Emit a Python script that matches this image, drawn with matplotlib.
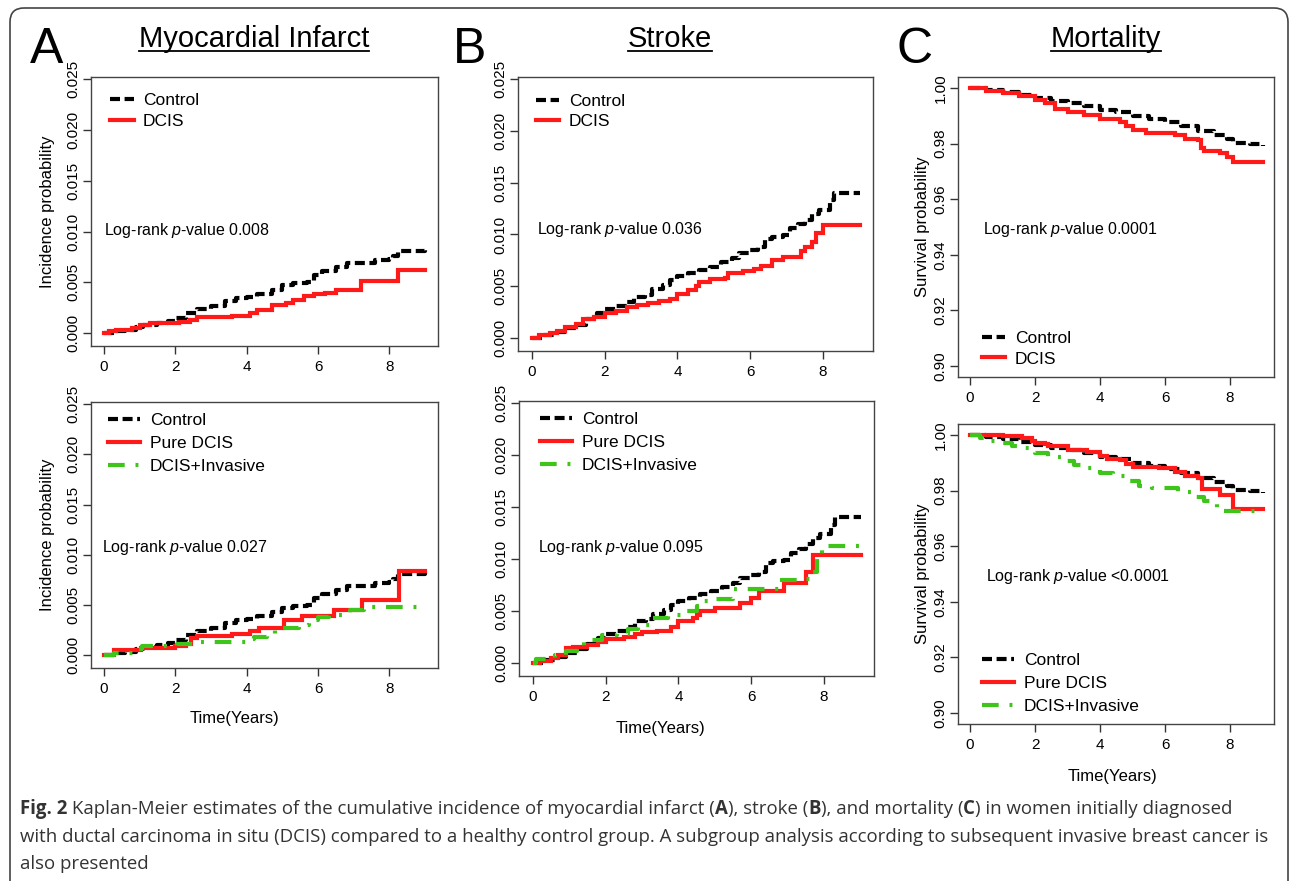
import matplotlib
matplotlib.use('Agg')
import matplotlib.pyplot as plt
from matplotlib.patches import FancyBboxPatch

plt.rcParams['font.family'] = ['Liberation Sans', 'DejaVu Sans']
plt.rcParams['mathtext.fontset'] = 'custom'
plt.rcParams['mathtext.rm'] = 'Liberation Sans'
plt.rcParams['mathtext.it'] = 'Liberation Sans:italic'

W, H = 1290, 881

# ---- data (time in years, probability) ----
mi_ctrl_t = [0, 0.3, 0.6, 0.9, 1.1, 1.5, 1.8, 2.0, 2.3, 2.6, 3.0, 3.4, 3.7, 4.0, 4.3, 4.7, 5.0, 5.3,
             5.7, 5.9, 6.1, 6.5, 6.8, 7.4, 7.6, 8.0, 8.1, 8.25, 9.0]
mi_ctrl_y = [0, 0.0002, 0.0003, 0.0006, 0.0008, 0.0010, 0.0012, 0.0015, 0.0020, 0.0024, 0.0027, 0.0032,
             0.0035, 0.0036, 0.0039, 0.0043, 0.0047, 0.0049, 0.0050, 0.0057, 0.0061, 0.0065, 0.0069,
             0.0069, 0.0072, 0.0073, 0.0076, 0.0081, 0.0082]
mi_dcis_t = [0, 0.15, 0.35, 0.8, 1.0, 1.3, 2.1, 2.4, 2.6, 3.6, 4.1, 4.3, 4.7, 5.1, 5.3, 5.6, 5.9, 6.2,
             6.5, 7.2, 8.25, 9.0]
mi_dcis_y = [0, 0.0002, 0.0003, 0.0005, 0.0008, 0.0010, 0.0011, 0.0013, 0.0016, 0.0017, 0.0020, 0.0023,
             0.0028, 0.0030, 0.0033, 0.0037, 0.0039, 0.0040, 0.0043, 0.0051, 0.0062, 0.0062]
mi_pure_t = [0, 0.28, 1.03, 2.0, 2.3, 2.43, 2.6, 3.6, 4.1, 4.35, 5.05, 5.56, 6.45, 7.24, 8.27, 9.0]
mi_pure_y = [0, 0.0005, 0.00075, 0.0009, 0.0011, 0.0017, 0.0019, 0.0021, 0.0024, 0.0027, 0.0035,
             0.0039, 0.0045, 0.0055, 0.0084, 0.0084]
mi_inv_t = [0, 0.28, 0.93, 1.07, 2.05, 2.6, 4.0, 4.2, 4.58, 4.8, 5.47, 5.75, 6.0, 6.3, 6.9, 7.3, 9.0]
mi_inv_y = [0, 0.0002, 0.0006, 0.0009, 0.0011, 0.0013, 0.0016, 0.0018, 0.0020, 0.0027, 0.0030,
            0.0035, 0.0038, 0.0040, 0.0045, 0.0048, 0.0048]

st_ctrl_t = [0, 0.3, 0.6, 0.9, 1.2, 1.5, 1.8, 2.0, 2.3, 2.6, 2.8, 3.1, 3.3, 3.6, 3.8, 4.0, 4.3, 4.6,
             4.9, 5.2, 5.5, 5.7, 6.0, 6.2, 6.4, 6.6, 6.9, 7.1, 7.3, 7.5, 7.7, 7.9, 8.1, 8.2, 8.3, 9.0]
st_ctrl_y = [0, 0.0003, 0.0006, 0.0010, 0.0013, 0.0018, 0.0024, 0.0028, 0.0031, 0.0035, 0.0040,
             0.0042, 0.0047, 0.0051, 0.0056, 0.0060, 0.0063, 0.0066, 0.0069, 0.0073, 0.0077, 0.0082,
             0.0085, 0.0088, 0.0096, 0.0098, 0.0099, 0.0106, 0.0110, 0.0114, 0.0120, 0.0124, 0.0124,
             0.0133, 0.0140, 0.0140]
st_dcis_t = [0, 0.2, 0.5, 0.7, 0.9, 1.2, 1.4, 1.7, 2.0, 2.3, 2.6, 2.9, 3.2, 3.5, 3.8, 4.0, 4.3, 4.5,
             4.6, 4.9, 5.3, 5.4, 5.8, 6.1, 6.3, 6.6, 6.9, 7.4, 7.5, 7.7, 7.8, 8.0, 9.0]
st_dcis_y = [0, 0.0003, 0.0005, 0.0007, 0.0011, 0.0014, 0.0018, 0.0020, 0.0024, 0.0026, 0.0030,
             0.0032, 0.0034, 0.0036, 0.0038, 0.0043, 0.0046, 0.0050, 0.0054, 0.0057, 0.0058, 0.0063,
             0.0065, 0.0067, 0.0070, 0.0075, 0.0078, 0.0084, 0.0088, 0.0093, 0.0101, 0.0109, 0.0109]
st_pure_t = [0, 0.2, 0.5, 0.7, 0.9, 1.1, 1.5, 1.8, 2.0, 2.5, 2.8, 3.0, 3.4, 3.8, 4.0, 4.4, 4.5, 4.6,
             5.0, 5.7, 6.0, 6.2, 6.9, 7.5, 7.7, 9.0]
st_pure_y = [0, 0.0002, 0.0005, 0.0008, 0.0014, 0.0015, 0.0017, 0.0020, 0.0023, 0.0025, 0.0028,
             0.0030, 0.0031, 0.0035, 0.0040, 0.0043, 0.0046, 0.0050, 0.0053, 0.0058, 0.0063, 0.0069,
             0.0077, 0.0088, 0.0104, 0.0104]
st_inv_t = [0, 0.1, 0.6, 0.9, 1.2, 1.4, 1.6, 1.9, 2.3, 2.6, 2.9, 3.3, 3.7, 4.1, 4.5, 4.7, 4.9, 5.5,
            6.3, 6.8, 7.4, 7.6, 7.8, 7.95, 9.0]
st_inv_y = [0, 0.0004, 0.0008, 0.0012, 0.0016, 0.0021, 0.0022, 0.0027, 0.0028, 0.0033, 0.0037,
            0.0043, 0.0046, 0.0050, 0.0055, 0.0060, 0.0062, 0.0071, 0.0071, 0.0080, 0.0081, 0.0088,
            0.0100, 0.0113, 0.0113]

mo_ctrl_t = [0, 0.5, 1.0, 1.5, 2.0, 2.5, 3.0, 3.5, 4.0, 4.5, 5.0, 5.5, 6.0, 6.5, 7.0, 7.5, 7.9, 8.1,
             8.6, 9.0]
mo_ctrl_y = [1.0, 0.9992, 0.9985, 0.9975, 0.9963, 0.9955, 0.9945, 0.9935, 0.9922, 0.9913, 0.9898,
             0.9887, 0.9877, 0.9865, 0.9847, 0.9832, 0.9818, 0.9802, 0.9798, 0.9790]
mo_dcis_t = [0, 0.5, 1.0, 1.5, 2.0, 2.3, 2.6, 3.0, 3.5, 4.0, 4.6, 4.8, 5.0, 5.4, 6.0, 6.3, 6.6, 7.0,
             7.1, 7.2, 7.7, 7.9, 8.1, 9.0]
mo_dcis_y = [1.0, 0.9990, 0.9983, 0.9973, 0.9958, 0.9945, 0.9925, 0.9915, 0.9902, 0.9888, 0.9877,
             0.9862, 0.9850, 0.9840, 0.9838, 0.9830, 0.9815, 0.9812, 0.9785, 0.9775, 0.9765, 0.9752,
             0.9735, 0.9735]
mo_pure_t = [0, 1.0, 1.6, 1.9, 2.0, 2.3, 2.4, 3.0, 3.6, 4.0, 4.2, 4.6, 4.8, 5.0, 5.8, 6.3, 6.6, 7.0,
             7.15, 7.7, 8.1, 9.0]
mo_pure_y = [1.0, 0.9995, 0.9990, 0.9978, 0.9973, 0.9968, 0.9960, 0.9946, 0.9938, 0.9925, 0.9915,
             0.9910, 0.9895, 0.9886, 0.9880, 0.9868, 0.9853, 0.9845, 0.9805, 0.9785, 0.9735, 0.9735]
mo_inv_t = [0, 0.3, 0.6, 1.0, 1.3, 1.6, 2.0, 2.4, 2.8, 3.2, 3.6, 4.0, 4.4, 4.8, 5.2, 5.6, 6.0, 6.4,
            6.8, 7.2, 7.6, 7.8, 9.0]
mo_inv_y = [1.0, 0.9990, 0.9978, 0.9972, 0.9960, 0.9955, 0.9937, 0.9920, 0.9905, 0.9893, 0.9880,
            0.9862, 0.9852, 0.9835, 0.9818, 0.9810, 0.9810, 0.9795, 0.9778, 0.9762, 0.9735, 0.9727,
            0.9725]

titles = ['Myocardial Infarct', 'Stroke', 'Mortality']
letters = ['A', 'B', 'C']
pvals_top = ['0.008', '0.036', '0.0001']
pvals_bot = ['0.027', '0.095', '<0.0001']
inc_ticks = [0.000, 0.005, 0.010, 0.015, 0.020, 0.025]
surv_ticks = [0.90, 0.92, 0.94, 0.96, 0.98, 1.00]
x_ticks = [0, 2, 4, 6, 8]

caption_lines = [
    ' Kaplan-Meier estimates of the cumulative incidence of myocardial infarct (',
    'with ductal carcinoma in situ (DCIS) compared to a healthy control group. A subgroup analysis according to subsequent invasive breast cancer is',
    'also presented',
]

GREEN = '#3ec41a'
CTRL_STYLE = dict(color = 'black', lw = 3.0, ls = (0, (2.4, 1.1)))
DCIS_STYLE = dict(color = '#ff1a1a', lw = 3.0, ls = '-')
INV_STYLE = dict(color = GREEN, lw = 3.0, ls = (0, (4, 2.6, 0.7, 2.6)))


def rect(l, t, r, b):
    return [l / W, 1 - b / H, (r - l) / W, (b - t) / H]


def setup_axis(ax, xlim, ylim, yticks, yfmt):
    ax.set_xlim(*xlim)
    ax.set_ylim(*ylim)
    ax.set_xticks(x_ticks)
    ax.set_yticks(yticks)
    ax.set_yticklabels([yfmt.format(v) for v in yticks], rotation = 90, va = 'center')
    ax.tick_params(direction = 'out', length = 6, width = 1, labelsize = 11, color = '#333333',
                   pad = 4)
    ax.tick_params(axis = 'y', pad = 1.5)
    for s in ax.spines.values():
        s.set_color('#444444')
        s.set_linewidth(1.0)


def km_panel(ax, series, ptext, ptxt_xy, leg_kw, xlim, ylim, yticks, yfmt):
    setup_axis(ax, xlim, ylim, yticks, yfmt)
    handles = []
    for t, y, style, lab in series:
        h, = ax.plot(t, y, drawstyle = 'steps-post', solid_joinstyle = 'miter', label = lab,
                     **style)
        handles.append(h)
    ax.text(ptxt_xy[0], ptxt_xy[1], 'Log-rank $p$-value ' + ptext, fontsize = 11.5,
            va = 'center', ha = 'left')
    ax.legend(handles = handles, frameon = False, fontsize = 12.5, borderpad = 0,
              borderaxespad = 0, handletextpad = 0.55, **leg_kw)
    return ax


fig = plt.figure(figsize = (W / 100, H / 100), dpi = 100)
bg = fig.add_axes([0, 0, 1, 1])
bg.set_xlim(0, W)
bg.set_ylim(H, 0)
bg.axis('off')
bg.add_patch(FancyBboxPatch((10, 8), 1278, 900, boxstyle = 'round,pad=0,rounding_size=14',
                            fc = 'none', ec = '#444444', lw = 1.2))

inc_lim = (-0.00125, 0.0252)
surv_lim = (0.896, 1.004)
xl = (-0.36, 9.36)

top_leg2 = dict(loc = 'upper left', handlelength = 1.35, labelspacing = 0.3)
bot_leg3 = dict(loc = 'upper left', handlelength = 1.85, labelspacing = 0.45)

axA1 = fig.add_axes(rect(91, 77, 438, 346))
km_panel(axA1, [(mi_ctrl_t, mi_ctrl_y, CTRL_STYLE, 'Control'),
                (mi_dcis_t, mi_dcis_y, DCIS_STYLE, 'DCIS')],
         pvals_top[0], (0, 0.0101), dict(bbox_to_anchor = (0.055, 0.94), **top_leg2),
         xl, inc_lim, inc_ticks, '{:.3f}')
axA2 = fig.add_axes(rect(91, 402, 438, 668))
km_panel(axA2, [(mi_ctrl_t, mi_ctrl_y, CTRL_STYLE, 'Control'),
                (mi_pure_t, mi_pure_y, DCIS_STYLE, 'Pure DCIS'),
                (mi_inv_t, mi_inv_y, INV_STYLE, 'DCIS+Invasive')],
         pvals_bot[0], (-0.05, 0.0107), dict(bbox_to_anchor = (0.05, 0.96), **bot_leg3),
         xl, inc_lim, inc_ticks, '{:.3f}')

axB1 = fig.add_axes(rect(518, 77, 873, 351))
km_panel(axB1, [(st_ctrl_t, st_ctrl_y, CTRL_STYLE, 'Control'),
                (st_dcis_t, st_dcis_y, DCIS_STYLE, 'DCIS')],
         pvals_top[1], (0.15, 0.0105), dict(bbox_to_anchor = (0.05, 0.94), **top_leg2),
         (-0.38, 9.37), inc_lim, inc_ticks, '{:.3f}')
axB2 = fig.add_axes(rect(519, 401, 874, 676))
km_panel(axB2, [(st_ctrl_t, st_ctrl_y, CTRL_STYLE, 'Control'),
                (st_pure_t, st_pure_y, DCIS_STYLE, 'Pure DCIS'),
                (st_inv_t, st_inv_y, INV_STYLE, 'DCIS+Invasive')],
         pvals_bot[1], (0.15, 0.0111), dict(bbox_to_anchor = (0.06, 0.96), **bot_leg3),
         (-0.38, 9.37), inc_lim, inc_ticks, '{:.3f}')

axC1 = fig.add_axes(rect(958, 77, 1274, 377))
km_panel(axC1, [(mo_ctrl_t, mo_ctrl_y, CTRL_STYLE, 'Control'),
                (mo_dcis_t, mo_dcis_y, DCIS_STYLE, 'DCIS')],
         pvals_top[2], (0.4, 0.949), dict(bbox_to_anchor = (0.076, 0.035),
                                          **dict(top_leg2, loc = 'lower left')),
         (-0.37, 9.35), surv_lim, surv_ticks, '{:.2f}')
axC2 = fig.add_axes(rect(958, 424, 1274, 724))
km_panel(axC2, [(mo_ctrl_t, mo_ctrl_y, CTRL_STYLE, 'Control'),
                (mo_pure_t, mo_pure_y, DCIS_STYLE, 'Pure DCIS'),
                (mo_inv_t, mo_inv_y, INV_STYLE, 'DCIS+Invasive')],
         pvals_bot[2], (0.48, 0.949), dict(bbox_to_anchor = (0.076, 0.033),
                                           **dict(bot_leg3, loc = 'lower left')),
         (-0.37, 9.35), surv_lim, surv_ticks, '{:.2f}')

for ax in [axA1, axA2]:
    ax.set_ylabel('Incidence probability', fontsize = 12)
    ax.yaxis.set_label_coords(-0.104, 0.5)
for ax in [axC1, axC2]:
    ax.set_ylabel('Survival probability', fontsize = 12)
    ax.yaxis.set_label_coords(-0.089, 0.5)

# x axis titles
for x, y in [(234, 718), (660, 728), (1113, 776)]:
    bg.text(x, y, 'Time(Years)', fontsize = 12, ha = 'center', va = 'center')

# panel letters and underlined titles
renderer = fig.canvas.get_renderer()
for lx, tx, letter, title in zip([47, 470, 915], [254, 670, 1106], letters, titles):
    bg.text(lx, 63, letter, fontsize = 36, ha = 'center', va = 'baseline')
    t = bg.text(tx, 47, title, fontsize = 21, ha = 'center', va = 'baseline')
    bb = t.get_window_extent(renderer)
    x0 = bg.transData.inverted().transform((bb.x0, 0))[0]
    x1 = bg.transData.inverted().transform((bb.x1, 0))[0]
    bg.plot([x0, x1], [51, 51], color = 'black', lw = 1.3)

# caption
cap_font = ['Open Sans', 'DejaVu Sans']
cap_color = '#333333'
cap_size = 13.4
line1 = [('Fig. 2', 'bold'), (caption_lines[0], 'normal'), ('A', 'bold'),
         ('), stroke (', 'normal'), ('B', 'bold'), ('), and mortality (', 'normal'),
         ('C', 'bold'), (') in women initially diagnosed', 'normal')]
x = 20
for txt, wt in line1:
    t = bg.text(x, 809, txt, fontsize = cap_size, family = cap_font, weight = wt,
                color = cap_color, va = 'center', ha = 'left')
    bb = t.get_window_extent(renderer)
    x = bg.transData.inverted().transform((bb.x1, 0))[0]
bg.text(20, 837, caption_lines[1], fontsize = cap_size, family = cap_font, color = cap_color,
        va = 'center', ha = 'left')
bg.text(20, 864, caption_lines[2], fontsize = cap_size, family = cap_font, color = cap_color,
        va = 'center', ha = 'left')

fig.savefig('out.png', dpi = 100)
